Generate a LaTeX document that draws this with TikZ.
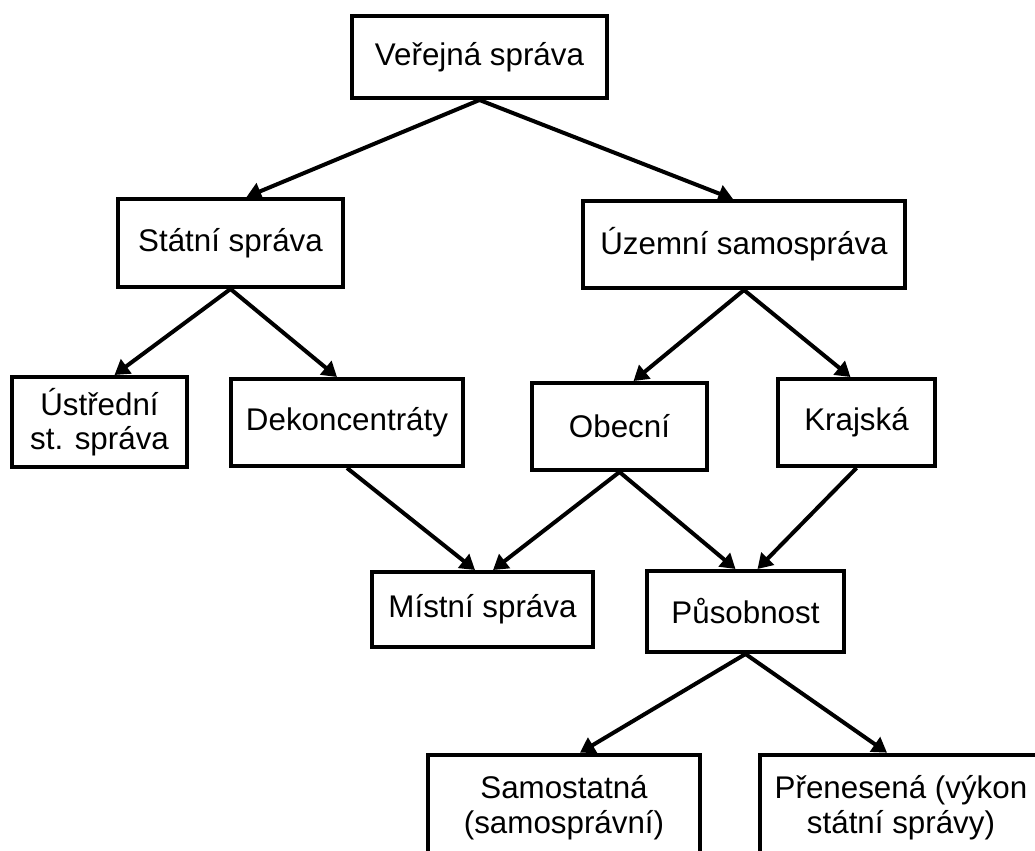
\documentclass[tikz,border=0pt]{standalone}
\usepackage{fontspec}
\setmainfont{Liberation Sans}
\usetikzlibrary{arrows.meta}
\begin{document}
\begin{tikzpicture}[x=0.75pt, y=-0.75pt,
        box/.style={draw, line width=3pt, inner sep=0pt, align=center, font=\fontsize{23.5}{26}\selectfont},
        arr/.style={line width=3pt, -{Triangle[length=11pt, width=13pt]}}]
            \useasboundingbox (0,0) rectangle (1035,850);
            \clip (0,0) rectangle (1035,850);
            \node[box, minimum width=191.25pt, minimum height=61.5pt] (verejna) at (479.5,57) {Veřejná správa};
            \node[box, minimum width=168.75pt, minimum height=66pt] (statni) at (230.5,243) {Státní správa};
            \node[box, minimum width=241.5pt, minimum height=65.25pt] (uzemni) at (744,244.5) {Územní samospráva};
            \node[box, minimum width=131.25pt, minimum height=67.5pt] (ustredni) at (99.5,422) {Ústřední\\st. správa};
            \node[box, minimum width=174pt, minimum height=65.25pt] (dekonc) at (347,422.5) {Dekoncentráty};
            \node[box, minimum width=131.25pt, minimum height=65.25pt] (obecni) at (619.5,426.5) {Obecní};
            \node[box, minimum width=117.75pt, minimum height=65.25pt] (krajska) at (856.5,422.5) {Krajská};
            \node[box, minimum width=165.75pt, minimum height=56.25pt] (mistni) at (482.5,609.5) {Místní správa};
            \node[box, minimum width=147.75pt, minimum height=60.75pt] (pusobnost) at (745.5,611.5) {Působnost};
            \node[box, minimum width=204pt, minimum height=80pt] (samostatna) at (564,808) {Samostatná\\(samosprávní)};
            \node[box, minimum width=211.5pt, minimum height=80pt] (prenesena) at (901,808) {Přenesená (výkon\\státní správy)};
            \draw[arr] (verejna.south) -- ([xshift=12pt]statni.north);
            \draw[arr] (verejna.south) -- ([xshift=-8.25pt]uzemni.north);
            \draw[arr] (statni.south) -- ([xshift=11.25pt]ustredni.north);
            \draw[arr] (statni.south) -- ([xshift=-7.5pt]dekonc.north);
            \draw[arr] (uzemni.south) -- ([xshift=10.5pt]obecni.north);
            \draw[arr] (uzemni.south) -- ([xshift=-4.5pt]krajska.north);
            \draw[arr] (dekonc.south) -- ([xshift=-5.6pt]mistni.north);
            \draw[arr] (obecni.south) -- ([xshift=7.9pt]mistni.north);
            \draw[arr] (obecni.south) -- ([xshift=-7.5pt]pusobnost.north);
            \draw[arr] (krajska.south) -- ([xshift=9pt]pusobnost.north);
            \draw[arr] (pusobnost.south) -- ([xshift=12pt]samostatna.north);
            \draw[arr] (pusobnost.south) -- ([xshift=-10.5pt]prenesena.north);
        \end{tikzpicture}
\end{document}
